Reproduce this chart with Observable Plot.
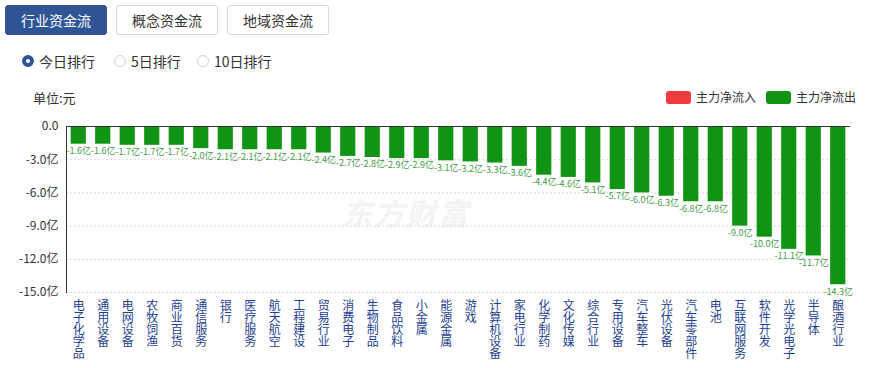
<!DOCTYPE html>
<html><head><meta charset="utf-8">
<script src="https://cdn.jsdelivr.net/npm/d3@7"></script>
<script src="https://cdn.jsdelivr.net/npm/@observablehq/plot@0.6"></script>
<style>
body{margin:0;width:870px;height:368px;overflow:hidden;background:#fff;font-family:"Noto Sans CJK SC","Noto Sans",sans-serif;position:relative}
.btn{position:absolute;top:5px;height:30px;border:1px solid #d3d7dd;border-radius:3px;box-sizing:border-box;font-size:14px;line-height:28px;text-align:center;color:#333;background:#fff}
.btn.on{background:#2f5597;border-color:#2f5597;color:#fff}
.radio{position:absolute;top:52px;font-size:14px;color:#333;line-height:18px}
.radio i{position:absolute;left:0;top:3px;width:12px;height:12px;border-radius:50%;box-sizing:border-box;border:1px solid #ccd0d6;background:#fff}
.radio i.on{border:4px solid #2f5597}
.radio span{position:absolute;left:17px;white-space:nowrap}
#unit{position:absolute;left:33px;top:88px;font-size:13px;color:#333}
.leg{position:absolute;top:88px;font-size:12px;color:#333;line-height:18px;white-space:nowrap}
.leg b{display:inline-block;width:25px;height:13px;border-radius:3px;vertical-align:-2px;margin-right:5px}
#wm{position:absolute;left:342px;top:190px;font-size:30px;font-weight:bold;color:#f3f3f3;letter-spacing:2px;font-style:italic}
#chart{position:absolute;left:0;top:110px}
</style></head>
<body>
<div class="btn on" style="left:5px;width:102px">行业资金流</div>
<div class="btn" style="left:116px;width:102px">概念资金流</div>
<div class="btn" style="left:227px;width:102px">地域资金流</div>
<div class="radio" style="left:22px"><i class="on"></i><span>今日排行</span></div>
<div class="radio" style="left:114px"><i></i><span>5日排行</span></div>
<div class="radio" style="left:197px"><i></i><span>10日排行</span></div>
<div id="unit">单位:元</div>
<div class="leg" style="left:666px"><b style="background:#f03c3c"></b>主力净流入</div>
<div class="leg" style="left:766px"><b style="background:#109413"></b>主力净流出</div>
<div id="wm">东方财富</div>
<div id="chart"></div>
<script>
const categories = ["电子化学品","通用设备","电网设备","农牧饲渔","商业百货","通信服务","银行","医疗服务","航天航空","工程建设","贸易行业","消费电子","生物制品","食品饮料","小金属","能源金属","游戏","计算机设备","家电行业","化学制药","文化传媒","综合行业","专用设备","汽车整车","光伏设备","汽车零部件","电池","互联网服务","软件开发","光学光电子","半导体","酿酒行业"];
const values = [-1.6,-1.6,-1.7,-1.7,-1.7,-2.0,-2.1,-2.1,-2.1,-2.1,-2.4,-2.7,-2.8,-2.9,-2.9,-3.1,-3.2,-3.3,-3.6,-4.4,-4.6,-5.1,-5.7,-6.0,-6.3,-6.8,-6.8,-9.0,-10.0,-11.1,-11.7,-14.3];
const yTicks = [0,-3,-6,-9,-12,-15];

const data = categories.map((c,i)=>({name:c, value:values[i]}));
const fmtY = v => v === 0 ? "0.0" : v.toFixed(1) + "亿";

const chart = Plot.plot({
  width: 870,
  height: 258,
  marginLeft: 66,
  marginRight: 20,
  marginTop: 16,
  marginBottom: 76,
  style: {fontFamily: '"Noto Sans CJK SC","Noto Sans",sans-serif', background: "transparent", overflow: "visible"},
  x: {domain: categories, paddingInner: 0.38, paddingOuter: 0.19, round: false, label: null},
  y: {domain: [-15, 0], label: null},
  marks: [
    Plot.ruleY(yTicks.filter(d => d !== 0), {stroke: "#d9d9d9", strokeDasharray: "2,2"}),
    Plot.barY(data, {x: "name", y: "value", fill: "#109413"}),
    Plot.text(data, {x: "name", y: "value", text: d => d.value.toFixed(1) + "亿", dy: 7, fontSize: 9, fill: "#3f9a48"}),
    Plot.axisY({ticks: yTicks, tickFormat: fmtY, tickSize: 0, tickPadding: 8, fontSize: 12, color: "#333"}),
    Plot.axisX({tickSize: 0, tickPadding: 9, tickFormat: d => d.split("").join("\n"), lineAnchor: "top", textAnchor: "middle", lineHeight: 1, fontSize: 12, fill: "#1f3f8f"}),
    Plot.ruleY([0], {stroke: "#333"}),
    Plot.frame({anchor: "left", stroke: "#333"})
  ]
});
document.getElementById("chart").appendChild(chart);
</script>
</body></html>
